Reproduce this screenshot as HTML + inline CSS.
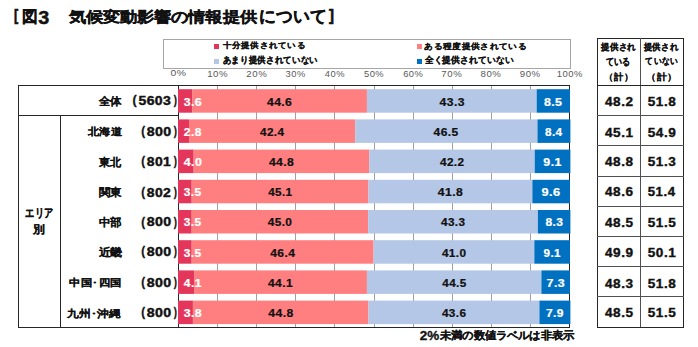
<!DOCTYPE html><html><head><meta charset="utf-8"><style>*{margin:0;padding:0}html,body{width:698px;height:347px;overflow:hidden;background:#fff}svg{display:block;font-family:"Liberation Sans",sans-serif}</style></head><body>
<svg width="698" height="347" viewBox="0 0 698 347">
<rect x="163.5" y="39.5" width="407" height="29" fill="#fff" stroke="#A6A6A6" stroke-width="1" shape-rendering="crispEdges"/>
<rect x="214" y="44" width="5" height="5" fill="#E4355A"/>
<rect x="417" y="44" width="5" height="5" fill="#FF7F80"/>
<rect x="214" y="59" width="5" height="5" fill="#B4C7E7"/>
<rect x="417" y="59" width="5" height="5" fill="#0070C0"/>
<line x1="217.5" y1="85" x2="217.5" y2="327" stroke="#A0A0A0" stroke-width="1" shape-rendering="crispEdges"/>
<line x1="256.5" y1="85" x2="256.5" y2="327" stroke="#A0A0A0" stroke-width="1" shape-rendering="crispEdges"/>
<line x1="295.5" y1="85" x2="295.5" y2="327" stroke="#A0A0A0" stroke-width="1" shape-rendering="crispEdges"/>
<line x1="334.5" y1="85" x2="334.5" y2="327" stroke="#A0A0A0" stroke-width="1" shape-rendering="crispEdges"/>
<line x1="374.5" y1="85" x2="374.5" y2="327" stroke="#A0A0A0" stroke-width="1" shape-rendering="crispEdges"/>
<line x1="413.5" y1="85" x2="413.5" y2="327" stroke="#A0A0A0" stroke-width="1" shape-rendering="crispEdges"/>
<line x1="452.5" y1="85" x2="452.5" y2="327" stroke="#A0A0A0" stroke-width="1" shape-rendering="crispEdges"/>
<line x1="491.5" y1="85" x2="491.5" y2="327" stroke="#A0A0A0" stroke-width="1" shape-rendering="crispEdges"/>
<line x1="530.5" y1="85" x2="530.5" y2="327" stroke="#A0A0A0" stroke-width="1" shape-rendering="crispEdges"/>
<line x1="178.5" y1="85" x2="178.5" y2="328" stroke="#262626" stroke-width="1" shape-rendering="crispEdges"/>
<line x1="569.5" y1="85" x2="569.5" y2="328" stroke="#262626" stroke-width="1" shape-rendering="crispEdges"/>
<rect x="178.00" y="89.20" width="14.11" height="23.5" fill="#E4355A"/>
<rect x="192.11" y="89.20" width="174.83" height="23.5" fill="#FF7F80"/>
<rect x="366.94" y="89.20" width="169.74" height="23.5" fill="#B4C7E7"/>
<rect x="536.68" y="89.20" width="33.32" height="23.5" fill="#0070C0"/>
<rect x="178.00" y="119.40" width="10.98" height="23.5" fill="#E4355A"/>
<rect x="188.98" y="119.40" width="166.21" height="23.5" fill="#FF7F80"/>
<rect x="355.18" y="119.40" width="182.28" height="23.5" fill="#B4C7E7"/>
<rect x="537.46" y="119.40" width="32.93" height="23.5" fill="#0070C0"/>
<rect x="178.00" y="149.60" width="15.68" height="23.5" fill="#E4355A"/>
<rect x="193.68" y="149.60" width="175.62" height="23.5" fill="#FF7F80"/>
<rect x="369.30" y="149.60" width="165.42" height="23.5" fill="#B4C7E7"/>
<rect x="534.72" y="149.60" width="35.67" height="23.5" fill="#0070C0"/>
<rect x="178.00" y="179.80" width="13.72" height="23.5" fill="#E4355A"/>
<rect x="191.72" y="179.80" width="176.79" height="23.5" fill="#FF7F80"/>
<rect x="368.51" y="179.80" width="163.86" height="23.5" fill="#B4C7E7"/>
<rect x="532.37" y="179.80" width="37.63" height="23.5" fill="#0070C0"/>
<rect x="178.00" y="210.00" width="13.72" height="23.5" fill="#E4355A"/>
<rect x="191.72" y="210.00" width="176.40" height="23.5" fill="#FF7F80"/>
<rect x="368.12" y="210.00" width="169.74" height="23.5" fill="#B4C7E7"/>
<rect x="537.86" y="210.00" width="32.54" height="23.5" fill="#0070C0"/>
<rect x="178.00" y="240.20" width="13.72" height="23.5" fill="#E4355A"/>
<rect x="191.72" y="240.20" width="181.89" height="23.5" fill="#FF7F80"/>
<rect x="373.61" y="240.20" width="160.72" height="23.5" fill="#B4C7E7"/>
<rect x="534.33" y="240.20" width="35.67" height="23.5" fill="#0070C0"/>
<rect x="178.00" y="270.40" width="16.07" height="23.5" fill="#E4355A"/>
<rect x="194.07" y="270.40" width="172.87" height="23.5" fill="#FF7F80"/>
<rect x="366.94" y="270.40" width="174.44" height="23.5" fill="#B4C7E7"/>
<rect x="541.38" y="270.40" width="28.62" height="23.5" fill="#0070C0"/>
<rect x="178.00" y="300.60" width="14.90" height="23.5" fill="#E4355A"/>
<rect x="192.90" y="300.60" width="175.62" height="23.5" fill="#FF7F80"/>
<rect x="368.51" y="300.60" width="170.91" height="23.5" fill="#B4C7E7"/>
<rect x="539.42" y="300.60" width="30.97" height="23.5" fill="#0070C0"/>
<line x1="18" y1="85.5" x2="570" y2="85.5" stroke="#262626" stroke-width="1" shape-rendering="crispEdges"/>
<line x1="18" y1="327.5" x2="570" y2="327.5" stroke="#262626" stroke-width="1" shape-rendering="crispEdges"/>
<line x1="18.5" y1="85" x2="18.5" y2="328" stroke="#262626" stroke-width="1" shape-rendering="crispEdges"/>
<line x1="18" y1="115.5" x2="178" y2="115.5" stroke="#262626" stroke-width="1" shape-rendering="crispEdges"/>
<line x1="60.5" y1="115" x2="60.5" y2="328" stroke="#262626" stroke-width="1" shape-rendering="crispEdges"/>
<line x1="597" y1="38.5" x2="684" y2="38.5" stroke="#262626" stroke-width="1" shape-rendering="crispEdges"/>
<line x1="597.5" y1="38" x2="597.5" y2="328" stroke="#262626" stroke-width="1" shape-rendering="crispEdges"/>
<line x1="640.5" y1="38" x2="640.5" y2="328" stroke="#505050" stroke-width="1" shape-rendering="crispEdges"/>
<line x1="683.5" y1="38" x2="683.5" y2="328" stroke="#262626" stroke-width="1" shape-rendering="crispEdges"/>
<line x1="597" y1="85.5" x2="684" y2="85.5" stroke="#262626" stroke-width="1" shape-rendering="crispEdges"/>
<line x1="597" y1="115.5" x2="684" y2="115.5" stroke="#505050" stroke-width="1" shape-rendering="crispEdges"/>
<line x1="597" y1="145.5" x2="684" y2="145.5" stroke="#505050" stroke-width="1" shape-rendering="crispEdges"/>
<line x1="597" y1="176.5" x2="684" y2="176.5" stroke="#505050" stroke-width="1" shape-rendering="crispEdges"/>
<line x1="597" y1="206.5" x2="684" y2="206.5" stroke="#505050" stroke-width="1" shape-rendering="crispEdges"/>
<line x1="597" y1="236.5" x2="684" y2="236.5" stroke="#505050" stroke-width="1" shape-rendering="crispEdges"/>
<line x1="597" y1="266.5" x2="684" y2="266.5" stroke="#505050" stroke-width="1" shape-rendering="crispEdges"/>
<line x1="597" y1="296.5" x2="684" y2="296.5" stroke="#505050" stroke-width="1" shape-rendering="crispEdges"/>
<line x1="597" y1="327.5" x2="684" y2="327.5" stroke="#262626" stroke-width="1" shape-rendering="crispEdges"/>
<text transform="translate(14.120 21.300) scale(0.7392 1.0240)" font-size="17" font-weight="bold" fill="#111" stroke="#111" stroke-width="0.7">[</text>
<text transform="translate(22.173 22.179) scale(0.9035 0.9235)" font-size="17" font-weight="bold" fill="#111" stroke="#111" stroke-width="0.35">図</text>
<text transform="translate(38.300 24.300) scale(1.1640 1.0560)" font-size="17" font-weight="bold" fill="#111" stroke="#111" stroke-width="0.4">3</text>
<text transform="translate(68.700 21.767) scale(0.9982 0.8659)" font-size="17" font-weight="bold" fill="#111" stroke="#111" stroke-width="0.35">気候変動影響の情報提供</text>
<text transform="translate(258.952 22.086) scale(0.9985 1.0149)" font-size="17" font-weight="bold" fill="#111" stroke="#111" stroke-width="0.35">について</text>
<text transform="translate(328.900 21.300) scale(0.8736 1.0240)" font-size="17" font-weight="bold" fill="#111" stroke="#111" stroke-width="0.7">]</text>
<text transform="translate(222.500 48.164) scale(0.8747 0.8264)" font-size="10" font-weight="bold" fill="#111" stroke="#111" stroke-width="0.2">十分提供されている</text>
<text transform="translate(222.650 63.230) scale(0.8474 0.9100)" font-size="10" font-weight="bold" fill="#111" stroke="#111" stroke-width="0.2">あまり提供されていない</text>
<text transform="translate(424.300 48.564) scale(0.8863 0.8182)" font-size="10" font-weight="bold" fill="#111" stroke="#111" stroke-width="0.2">ある程度提供されている</text>
<text transform="translate(424.750 63.230) scale(0.8488 0.8736)" font-size="10" font-weight="bold" fill="#111" stroke="#111" stroke-width="0.2">全く提供されていない</text>
<text transform="translate(170.420 75.600) scale(1.1532 1.0454)" font-size="9" letter-spacing="0.5" fill="#595959">0%</text>
<text transform="translate(207.144 76.500) scale(1.0724 1.0560)" font-size="9" letter-spacing="0.5" fill="#595959">10%</text>
<text transform="translate(246.344 76.500) scale(1.0724 1.0560)" font-size="9" letter-spacing="0.5" fill="#595959">20%</text>
<text transform="translate(285.544 76.500) scale(1.0392 1.0560)" font-size="9" letter-spacing="0.5" fill="#595959">30%</text>
<text transform="translate(324.744 76.500) scale(1.0392 1.0560)" font-size="9" letter-spacing="0.5" fill="#595959">40%</text>
<text transform="translate(363.944 76.500) scale(1.0392 1.0560)" font-size="9" letter-spacing="0.5" fill="#595959">50%</text>
<text transform="translate(403.144 76.500) scale(1.0392 1.0560)" font-size="9" letter-spacing="0.5" fill="#595959">60%</text>
<text transform="translate(441.344 76.500) scale(1.0724 1.0560)" font-size="9" letter-spacing="0.5" fill="#595959">70%</text>
<text transform="translate(480.544 76.500) scale(1.0724 1.0560)" font-size="9" letter-spacing="0.5" fill="#595959">80%</text>
<text transform="translate(519.744 76.500) scale(1.0724 1.0560)" font-size="9" letter-spacing="0.5" fill="#595959">90%</text>
<text transform="translate(556.755 76.500) scale(1.0518 1.0560)" font-size="9" letter-spacing="0.5" fill="#595959">100%</text>
<text transform="translate(98.550 104.967) scale(0.9204 0.8800)" font-size="12" font-weight="bold" fill="#111" stroke="#111" stroke-width="0.15">全体</text>
<text transform="translate(132.417 104.350) scale(1.0360 1.0227)" font-size="12" font-weight="bold" fill="#111" stroke="#111" stroke-width="0.3">(</text>
<text transform="translate(138.500 105.450) scale(1.1698 0.9920)" font-size="12" font-weight="bold" letter-spacing="0.3" fill="#111" stroke="#111" stroke-width="0.4">5603</text>
<text transform="translate(173.700 104.350) scale(0.7980 1.0227)" font-size="12" font-weight="bold" fill="#111" stroke="#111" stroke-width="0.3">)</text>
<text transform="translate(604.950 106.200) scale(1.1320 1.0000)" font-size="12" font-weight="bold" letter-spacing="0.5" fill="#111" stroke="#111" stroke-width="0.35">48.2</text>
<text transform="translate(647.750 106.200) scale(1.1320 1.0000)" font-size="12" font-weight="bold" letter-spacing="0.5" fill="#111" stroke="#111" stroke-width="0.35">51.8</text>
<text transform="translate(183.700 105.650) scale(1.0340 0.8853)" font-size="12" font-weight="bold" letter-spacing="0.4" fill="#fff" stroke="#fff" stroke-width="0.25">3.6</text>
<text transform="translate(267.006 105.650) scale(1.0145 0.8853)" font-size="12" font-weight="bold" letter-spacing="0.4" fill="#111" stroke="#111" stroke-width="0.25">44.6</text>
<text transform="translate(439.574 105.650) scale(1.0145 0.8853)" font-size="12" font-weight="bold" letter-spacing="0.4" fill="#111" stroke="#111" stroke-width="0.25">43.3</text>
<text transform="translate(543.880 105.650) scale(1.0353 0.8853)" font-size="12" font-weight="bold" letter-spacing="0.4" fill="#fff" stroke="#fff" stroke-width="0.25">8.5</text>
<text transform="translate(87.500 134.967) scale(0.9741 0.8712)" font-size="12" font-weight="bold" fill="#111" stroke="#111" stroke-width="0.15">北海道</text>
<text transform="translate(141.167 134.750) scale(0.9520 1.0227)" font-size="12" font-weight="bold" fill="#111" stroke="#111" stroke-width="0.3">(</text>
<text transform="translate(146.800 135.850) scale(1.1834 0.9920)" font-size="12" font-weight="bold" letter-spacing="0.3" fill="#111" stroke="#111" stroke-width="0.4">800</text>
<text transform="translate(173.700 134.750) scale(0.7980 1.0227)" font-size="12" font-weight="bold" fill="#111" stroke="#111" stroke-width="0.3">)</text>
<text transform="translate(604.950 136.600) scale(1.1320 1.0000)" font-size="12" font-weight="bold" letter-spacing="0.5" fill="#111" stroke="#111" stroke-width="0.35">45.1</text>
<text transform="translate(647.750 136.600) scale(1.1320 1.0000)" font-size="12" font-weight="bold" letter-spacing="0.5" fill="#111" stroke="#111" stroke-width="0.35">54.9</text>
<text transform="translate(183.800 136.050) scale(1.0042 0.8853)" font-size="12" font-weight="bold" letter-spacing="0.4" fill="#fff" stroke="#fff" stroke-width="0.25">2.8</text>
<text transform="translate(260.110 136.050) scale(0.9739 0.8853)" font-size="12" font-weight="bold" letter-spacing="0.4" fill="#111" stroke="#111" stroke-width="0.25">42.4</text>
<text transform="translate(433.598 136.050) scale(1.0040 0.8853)" font-size="12" font-weight="bold" letter-spacing="0.4" fill="#111" stroke="#111" stroke-width="0.25">46.5</text>
<text transform="translate(545.056 136.050) scale(0.9778 0.8853)" font-size="12" font-weight="bold" letter-spacing="0.4" fill="#fff" stroke="#fff" stroke-width="0.25">8.4</text>
<text transform="translate(99.050 166.267) scale(0.8910 0.8800)" font-size="12" font-weight="bold" fill="#111" stroke="#111" stroke-width="0.15">東北</text>
<text transform="translate(141.167 165.150) scale(0.9520 1.0227)" font-size="12" font-weight="bold" fill="#111" stroke="#111" stroke-width="0.3">(</text>
<text transform="translate(146.800 166.250) scale(1.1619 0.9920)" font-size="12" font-weight="bold" letter-spacing="0.3" fill="#111" stroke="#111" stroke-width="0.4">801</text>
<text transform="translate(173.700 165.150) scale(0.7980 1.0227)" font-size="12" font-weight="bold" fill="#111" stroke="#111" stroke-width="0.3">)</text>
<text transform="translate(604.950 166.000) scale(1.1320 1.0000)" font-size="12" font-weight="bold" letter-spacing="0.5" fill="#111" stroke="#111" stroke-width="0.35">48.8</text>
<text transform="translate(647.750 166.000) scale(1.1320 1.0000)" font-size="12" font-weight="bold" letter-spacing="0.5" fill="#111" stroke="#111" stroke-width="0.35">51.3</text>
<text transform="translate(183.800 166.450) scale(1.0353 0.8853)" font-size="12" font-weight="bold" letter-spacing="0.4" fill="#fff" stroke="#fff" stroke-width="0.25">4.0</text>
<text transform="translate(268.926 166.450) scale(1.0145 0.8853)" font-size="12" font-weight="bold" letter-spacing="0.4" fill="#111" stroke="#111" stroke-width="0.25">44.8</text>
<text transform="translate(439.966 166.450) scale(0.9831 0.8853)" font-size="12" font-weight="bold" letter-spacing="0.4" fill="#111" stroke="#111" stroke-width="0.25">42.2</text>
<text transform="translate(543.312 166.450) scale(1.0353 0.8853)" font-size="12" font-weight="bold" letter-spacing="0.4" fill="#fff" stroke="#fff" stroke-width="0.25">9.1</text>
<text transform="translate(98.550 195.667) scale(0.9204 0.8800)" font-size="12" font-weight="bold" fill="#111" stroke="#111" stroke-width="0.15">関東</text>
<text transform="translate(141.167 195.550) scale(0.9520 1.0227)" font-size="12" font-weight="bold" fill="#111" stroke="#111" stroke-width="0.3">(</text>
<text transform="translate(146.800 196.650) scale(1.1619 0.9920)" font-size="12" font-weight="bold" letter-spacing="0.3" fill="#111" stroke="#111" stroke-width="0.4">802</text>
<text transform="translate(173.700 195.550) scale(0.7980 1.0227)" font-size="12" font-weight="bold" fill="#111" stroke="#111" stroke-width="0.3">)</text>
<text transform="translate(604.950 196.400) scale(1.1320 1.0000)" font-size="12" font-weight="bold" letter-spacing="0.5" fill="#111" stroke="#111" stroke-width="0.35">48.6</text>
<text transform="translate(647.750 196.400) scale(1.0980 1.0000)" font-size="12" font-weight="bold" letter-spacing="0.5" fill="#111" stroke="#111" stroke-width="0.35">51.4</text>
<text transform="translate(183.700 195.850) scale(1.0010 0.8853)" font-size="12" font-weight="bold" letter-spacing="0.4" fill="#fff" stroke="#fff" stroke-width="0.25">3.5</text>
<text transform="translate(268.182 195.850) scale(0.9739 0.8853)" font-size="12" font-weight="bold" letter-spacing="0.4" fill="#111" stroke="#111" stroke-width="0.25">45.1</text>
<text transform="translate(437.830 195.850) scale(1.0145 0.8853)" font-size="12" font-weight="bold" letter-spacing="0.4" fill="#111" stroke="#111" stroke-width="0.25">41.8</text>
<text transform="translate(541.568 195.850) scale(1.0664 0.8853)" font-size="12" font-weight="bold" letter-spacing="0.4" fill="#fff" stroke="#fff" stroke-width="0.25">9.6</text>
<text transform="translate(98.550 226.067) scale(0.9204 0.8800)" font-size="12" font-weight="bold" fill="#111" stroke="#111" stroke-width="0.15">中部</text>
<text transform="translate(141.167 225.950) scale(0.9520 1.0227)" font-size="12" font-weight="bold" fill="#111" stroke="#111" stroke-width="0.3">(</text>
<text transform="translate(146.800 226.050) scale(1.1834 0.9920)" font-size="12" font-weight="bold" letter-spacing="0.3" fill="#111" stroke="#111" stroke-width="0.4">800</text>
<text transform="translate(173.700 225.950) scale(0.7980 1.0227)" font-size="12" font-weight="bold" fill="#111" stroke="#111" stroke-width="0.3">)</text>
<text transform="translate(604.950 226.800) scale(1.1320 1.0000)" font-size="12" font-weight="bold" letter-spacing="0.5" fill="#111" stroke="#111" stroke-width="0.35">48.5</text>
<text transform="translate(647.750 226.800) scale(1.1320 1.0000)" font-size="12" font-weight="bold" letter-spacing="0.5" fill="#111" stroke="#111" stroke-width="0.35">51.5</text>
<text transform="translate(183.700 226.250) scale(1.0010 0.8853)" font-size="12" font-weight="bold" letter-spacing="0.4" fill="#fff" stroke="#fff" stroke-width="0.25">3.5</text>
<text transform="translate(267.790 226.250) scale(0.9831 0.8853)" font-size="12" font-weight="bold" letter-spacing="0.4" fill="#111" stroke="#111" stroke-width="0.25">45.0</text>
<text transform="translate(440.926 226.250) scale(0.9831 0.8853)" font-size="12" font-weight="bold" letter-spacing="0.4" fill="#111" stroke="#111" stroke-width="0.25">43.3</text>
<text transform="translate(545.448 226.250) scale(1.0042 0.8853)" font-size="12" font-weight="bold" letter-spacing="0.4" fill="#fff" stroke="#fff" stroke-width="0.25">8.3</text>
<text transform="translate(98.550 255.967) scale(0.9792 0.8800)" font-size="12" font-weight="bold" fill="#111" stroke="#111" stroke-width="0.15">近畿</text>
<text transform="translate(141.167 255.350) scale(0.9520 1.0227)" font-size="12" font-weight="bold" fill="#111" stroke="#111" stroke-width="0.3">(</text>
<text transform="translate(146.800 256.450) scale(1.1834 0.9920)" font-size="12" font-weight="bold" letter-spacing="0.3" fill="#111" stroke="#111" stroke-width="0.4">800</text>
<text transform="translate(173.700 255.350) scale(0.7980 1.0227)" font-size="12" font-weight="bold" fill="#111" stroke="#111" stroke-width="0.3">)</text>
<text transform="translate(604.950 257.200) scale(1.1320 1.0000)" font-size="12" font-weight="bold" letter-spacing="0.5" fill="#111" stroke="#111" stroke-width="0.35">49.9</text>
<text transform="translate(647.750 257.200) scale(1.1320 1.0000)" font-size="12" font-weight="bold" letter-spacing="0.5" fill="#111" stroke="#111" stroke-width="0.35">50.1</text>
<text transform="translate(183.700 256.650) scale(1.0010 0.8853)" font-size="12" font-weight="bold" letter-spacing="0.4" fill="#fff" stroke="#fff" stroke-width="0.25">3.5</text>
<text transform="translate(270.278 256.650) scale(1.0040 0.8853)" font-size="12" font-weight="bold" letter-spacing="0.4" fill="#111" stroke="#111" stroke-width="0.25">46.4</text>
<text transform="translate(441.886 256.650) scale(0.9831 0.8853)" font-size="12" font-weight="bold" letter-spacing="0.4" fill="#111" stroke="#111" stroke-width="0.25">41.0</text>
<text transform="translate(543.528 256.650) scale(0.9732 0.8853)" font-size="12" font-weight="bold" letter-spacing="0.4" fill="#fff" stroke="#fff" stroke-width="0.25">9.1</text>
<text transform="translate(69.100 285.967) scale(0.9828 0.8712)" font-size="12" font-weight="bold" fill="#111" stroke="#111" stroke-width="0.15">中国･四国</text>
<text transform="translate(141.167 285.750) scale(0.9520 1.0227)" font-size="12" font-weight="bold" fill="#111" stroke="#111" stroke-width="0.3">(</text>
<text transform="translate(146.800 286.850) scale(1.1834 0.9920)" font-size="12" font-weight="bold" letter-spacing="0.3" fill="#111" stroke="#111" stroke-width="0.4">800</text>
<text transform="translate(173.700 285.750) scale(0.7980 1.0227)" font-size="12" font-weight="bold" fill="#111" stroke="#111" stroke-width="0.3">)</text>
<text transform="translate(604.950 287.600) scale(1.1320 1.0000)" font-size="12" font-weight="bold" letter-spacing="0.5" fill="#111" stroke="#111" stroke-width="0.35">48.3</text>
<text transform="translate(647.750 287.600) scale(1.1320 1.0000)" font-size="12" font-weight="bold" letter-spacing="0.5" fill="#111" stroke="#111" stroke-width="0.35">51.8</text>
<text transform="translate(183.800 287.050) scale(1.0042 0.8853)" font-size="12" font-weight="bold" letter-spacing="0.4" fill="#fff" stroke="#fff" stroke-width="0.25">4.1</text>
<text transform="translate(267.966 287.050) scale(1.0040 0.8853)" font-size="12" font-weight="bold" letter-spacing="0.4" fill="#111" stroke="#111" stroke-width="0.25">44.1</text>
<text transform="translate(442.278 287.050) scale(0.9739 0.8853)" font-size="12" font-weight="bold" letter-spacing="0.4" fill="#111" stroke="#111" stroke-width="0.25">44.5</text>
<text transform="translate(546.584 287.050) scale(1.0353 0.8853)" font-size="12" font-weight="bold" letter-spacing="0.4" fill="#fff" stroke="#fff" stroke-width="0.25">7.3</text>
<text transform="translate(67.300 316.567) scale(1.0263 0.8712)" font-size="12" font-weight="bold" fill="#111" stroke="#111" stroke-width="0.15">九州･沖縄</text>
<text transform="translate(141.167 316.150) scale(0.9520 1.0227)" font-size="12" font-weight="bold" fill="#111" stroke="#111" stroke-width="0.3">(</text>
<text transform="translate(146.800 317.250) scale(1.1834 0.9920)" font-size="12" font-weight="bold" letter-spacing="0.3" fill="#111" stroke="#111" stroke-width="0.4">800</text>
<text transform="translate(173.700 316.150) scale(0.7980 1.0227)" font-size="12" font-weight="bold" fill="#111" stroke="#111" stroke-width="0.3">)</text>
<text transform="translate(604.950 317.000) scale(1.1320 1.0000)" font-size="12" font-weight="bold" letter-spacing="0.5" fill="#111" stroke="#111" stroke-width="0.35">48.5</text>
<text transform="translate(647.750 317.000) scale(1.1320 1.0000)" font-size="12" font-weight="bold" letter-spacing="0.5" fill="#111" stroke="#111" stroke-width="0.35">51.5</text>
<text transform="translate(183.700 317.450) scale(1.0340 0.8853)" font-size="12" font-weight="bold" letter-spacing="0.4" fill="#fff" stroke="#fff" stroke-width="0.25">3.8</text>
<text transform="translate(268.358 317.450) scale(1.0145 0.8853)" font-size="12" font-weight="bold" letter-spacing="0.4" fill="#111" stroke="#111" stroke-width="0.25">44.8</text>
<text transform="translate(441.886 317.450) scale(0.9831 0.8853)" font-size="12" font-weight="bold" letter-spacing="0.4" fill="#111" stroke="#111" stroke-width="0.25">43.6</text>
<text transform="translate(546.016 317.450) scale(1.0042 0.8853)" font-size="12" font-weight="bold" letter-spacing="0.4" fill="#fff" stroke="#fff" stroke-width="0.25">7.9</text>
<text transform="translate(25.050 216.920) scale(0.8394 1.0944)" font-size="11" font-weight="bold" fill="#111" stroke="#111" stroke-width="0.2">エリア</text>
<text transform="translate(33.450 233.400) scale(1.0317 0.9600)" font-size="11" font-weight="bold" fill="#111" stroke="#111" stroke-width="0.2">別</text>
<text transform="translate(601.150 50.160) scale(0.8342 0.8832)" font-size="10" font-weight="bold" fill="#111" stroke="#111" stroke-width="0.25">提供され</text>
<text transform="translate(606.450 64.556) scale(0.7812 0.9813)" font-size="10" font-weight="bold" fill="#111" stroke="#111" stroke-width="0.25">ている</text>
<text transform="translate(603.933 79.509) scale(0.9808 0.9455)" font-size="10" font-weight="bold" fill="#111" stroke="#111" stroke-width="0.1">（計）</text>
<text transform="translate(643.650 50.160) scale(0.8213 0.8832)" font-size="10" font-weight="bold" fill="#111" stroke="#111" stroke-width="0.25">提供され</text>
<text transform="translate(645.250 64.260) scale(0.7873 0.9200)" font-size="10" font-weight="bold" fill="#111" stroke="#111" stroke-width="0.25">ていない</text>
<text transform="translate(646.317 79.509) scale(1.0079 0.9076)" font-size="10" font-weight="bold" fill="#111" stroke="#111" stroke-width="0.1">（計）</text>
<text transform="translate(419.750 340.000) scale(1.1225 0.9938)" font-size="12" font-weight="bold" fill="#111" stroke="#111" stroke-width="0.3">2%</text>
<text transform="translate(440.000 339.000) scale(0.9121 0.8840)" font-size="12" font-weight="bold" fill="#111" stroke="#111" stroke-width="0.25">未満の数値ラベルは非表示</text>
</svg></body></html>
